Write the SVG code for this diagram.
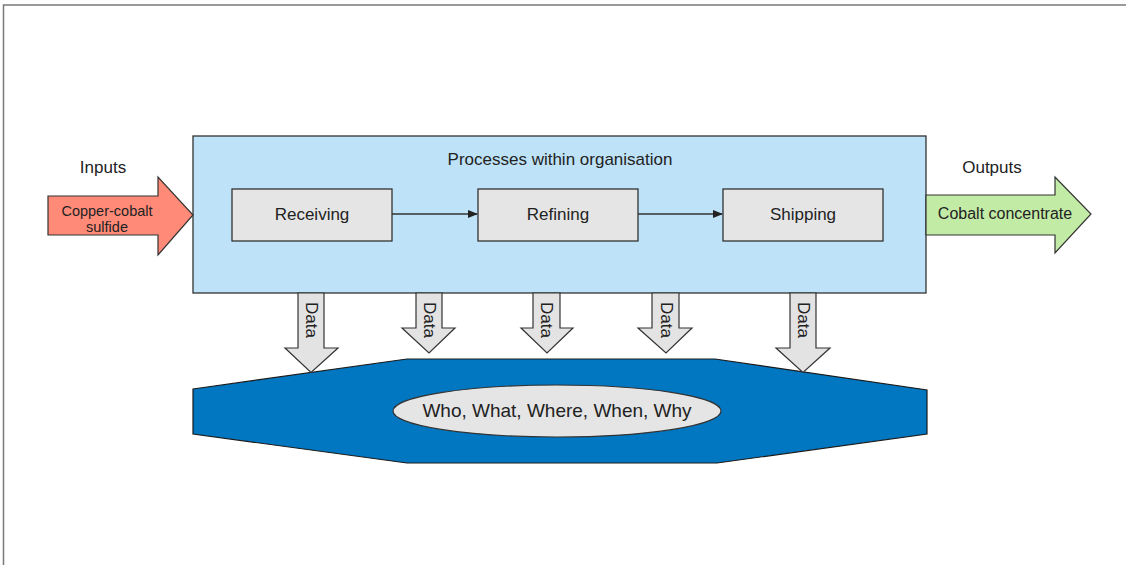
<svg xmlns="http://www.w3.org/2000/svg" width="1126" height="565" viewBox="0 0 1126 565">
  <style>
    text { font-family: "Liberation Sans", Arial, sans-serif; fill: #222; }
    .frame { fill: none; stroke: #7a7a7a; stroke-width: 1.5; }
    .proc { fill: #e5e5e5; stroke: #333; stroke-width: 1.3; }
    .lbl { font-size: 17px; text-anchor: middle; }
    .small { font-size: 14.5px; text-anchor: middle; }
    .flow { stroke: #333; stroke-width: 1.3; fill: none; marker-end: url(#head); }
    .data { fill: #e3e3e3; stroke: #333; stroke-width: 1.2; }
    .dtxt { font-size: 17px; }
  </style>
  <defs>
    <marker id="head" markerWidth="10" markerHeight="8" refX="9" refY="4" orient="auto" markerUnits="userSpaceOnUse">
      <path d="M0,0 L10,4 L0,8 Z" fill="#222"/>
    </marker>
  </defs>

  <rect width="1126" height="565" fill="#fff"/>
  <!-- page border -->
  <path class="frame" d="M3.5,565 V5 H1126"/>

  <!-- organisation container -->
  <g id="organisation">
    <rect x="193" y="136" width="733" height="157" fill="#bee3f8" stroke="#333" stroke-width="1.3"/>
    <text class="lbl" x="560" y="165">Processes within organisation</text>
  </g>

  <!-- data store -->
  <g id="datastore">
    <polygon points="193,389 407,359 715,359 927,390 927,434 717,463 407,463 193,434" fill="#0077c0" stroke="#1a1a1a" stroke-width="1.2"/>
    <ellipse cx="557" cy="411" rx="164" ry="26" fill="#e5e5e5" stroke="#333" stroke-width="1.2"/>
    <text class="lbl" x="557" y="417" style="font-size:19px">Who, What, Where, When, Why</text>
  </g>

  <!-- input -->
  <g id="input">
    <text class="lbl" x="103" y="173">Inputs</text>
    <polygon points="48,196 158,196 158,177 193,215 158,255 158,235 48,235" fill="#ff8a78" stroke="#333" stroke-width="1.2"/>
    <text class="small" x="107" y="216">Copper-cobalt</text>
    <text class="small" x="107" y="231.5">sulfide</text>
  </g>

  <!-- output -->
  <g id="output">
    <text class="lbl" x="992" y="173">Outputs</text>
    <polygon points="926,195 1055,195 1055,177 1091,214 1055,253 1055,235 926,235" fill="#c2eba6" stroke="#333" stroke-width="1.2"/>
    <text x="1005" y="218.5" style="font-size:16px;text-anchor:middle">Cobalt concentrate</text>
  </g>

  <!-- process steps -->
  <g id="receiving">
    <rect class="proc" x="232" y="189" width="160" height="52"/>
    <text class="lbl" x="312" y="220">Receiving</text>
  </g>
  <g id="refining">
    <rect class="proc" x="478" y="189" width="160" height="52"/>
    <text class="lbl" x="558" y="220">Refining</text>
  </g>
  <g id="shipping">
    <rect class="proc" x="723" y="189" width="160" height="52"/>
    <text class="lbl" x="803" y="220">Shipping</text>
  </g>

  <!-- connectors -->
  <g id="connectors">
    <line class="flow" x1="392" y1="214" x2="477" y2="214"/>
    <line class="flow" x1="638" y1="214" x2="722" y2="214"/>

    <g id="data1">
      <polygon class="data" points="298,293 324,293 324,348 338,348 311,372.5 285,348 298,348"/>
      <text class="dtxt" transform="translate(305.5,302) rotate(90)">Data</text>
    </g>
    <g id="data2">
      <polygon class="data" points="416,293 442,293 442,328 455,328 429,353 402,328 416,328"/>
      <text class="dtxt" transform="translate(423.5,302) rotate(90)">Data</text>
    </g>
    <g id="data3">
      <polygon class="data" points="533,293 560,293 560,328 573,328 547,353 521,328 533,328"/>
      <text class="dtxt" transform="translate(541,302) rotate(90)">Data</text>
    </g>
    <g id="data4">
      <polygon class="data" points="652,293 679,293 679,328 692,328 666,353 638,328 652,328"/>
      <text class="dtxt" transform="translate(660.5,302) rotate(90)">Data</text>
    </g>
    <g id="data5">
      <polygon class="data" points="790,293 816,293 816,348 830,348 803,372.5 776,348 790,348"/>
      <text class="dtxt" transform="translate(797.5,302) rotate(90)">Data</text>
    </g>
  </g>
</svg>
